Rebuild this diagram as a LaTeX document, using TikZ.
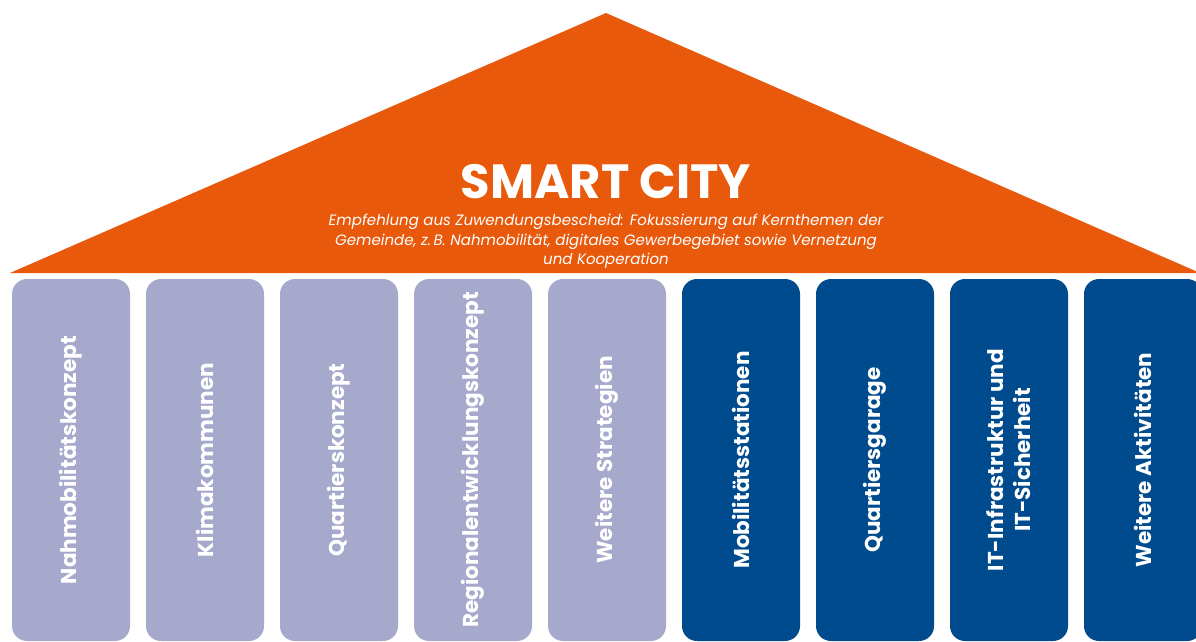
\documentclass[tikz,border=0pt]{standalone}
\usepackage{fontspec}
\setmainfont{Poppins}
\definecolor{roof}{RGB}{232,89,12}
\definecolor{lilac}{RGB}{167,169,204}
\definecolor{navy}{RGB}{0,75,141}
\begin{document}
\begin{tikzpicture}[x=1pt,y=-1pt,
  pillar/.style={rectangle, rounded corners=15pt, rotate=90,
    minimum width=362pt, minimum height=118pt, inner sep=0pt,
    text=white, align=center,
    font=\bfseries\fontsize{21.5}{27}\selectfont},
  soft/.style={pillar, fill=lilac},
  deep/.style={pillar, fill=navy},
  headline/.style={text=white, inner sep=0pt,
    font=\bfseries\fontsize{48}{54}\selectfont},
  subline/.style={text=white, inner sep=0pt, align=center,
    font=\itshape\fontsize{15}{19.5}\selectfont}]
\clip (0,0) rectangle (1196,642);
\fill[white] (0,0) rectangle (1196,642);
% roof
\coordinate (eaveL) at (10,273);
\coordinate (apex) at (606,13);
\coordinate (eaveR) at (1200,273);
\fill[roof] (eaveL) -- (apex) -- (eaveR) -- cycle;
\node[headline] (title) at (606,182) {SMART CITY};
\node[subline] (note) at (606,241.5) {Empfehlung aus Zuwendungsbescheid: Fokussierung auf Kernthemen der\\
Gemeinde, z.\,B. Nahmobilität, digitales Gewerbegebiet sowie Vernetzung\\
und Kooperation};
% pillars
\node[soft] (p1) at (71,460) {Nahmobilitätskonzept};
\node[soft] (p2) at (205,460) {Klimakommunen};
\node[soft] (p3) at (339,460) {Quartierskonzept};
\node[soft] (p4) at (473,460) {Regionalentwicklungskonzept};
\node[soft] (p5) at (607,460) {Weitere Strategien};
\node[deep] (p6) at (741,460) {Mobilitätsstationen};
\node[deep] (p7) at (875,460) {Quartiersgarage};
\node[deep] (p8) at (1009,460) {IT-Infrastruktur und\\IT-Sicherheit};
\node[deep] (p9) at (1143,460) {Weitere Aktivitäten};
\end{tikzpicture}
\end{document}
